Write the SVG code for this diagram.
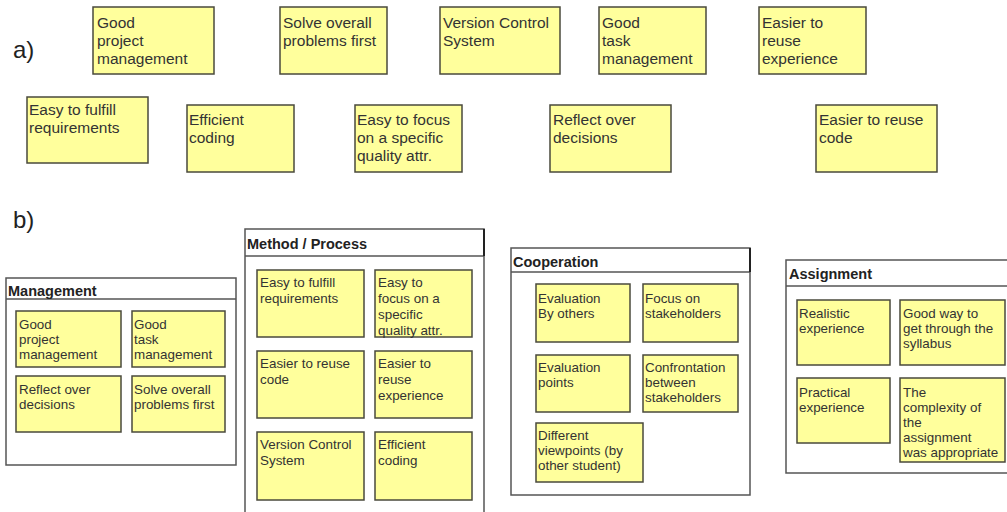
<svg xmlns="http://www.w3.org/2000/svg" width="1007" height="512" viewBox="0 0 1007 512">
<style>
.bg{fill:#ffffff}
.note{fill:#ffff9c;stroke:#4a4a3c;stroke-width:1.5}
.cont{fill:#ffffff;stroke:#555555;stroke-width:1.5}
.hdr{fill:none;stroke:#555555;stroke-width:1.5}
.edge{stroke:#222222;stroke-width:2}
.ta{font-family:"Liberation Sans",Arial,sans-serif;font-size:15.5px;fill:#333333}
.tb{font-family:"Liberation Sans",Arial,sans-serif;font-size:13.4px;fill:#333333}
.title{font-family:"Liberation Sans",Arial,sans-serif;font-size:14.5px;font-weight:bold;fill:#222222}
.lbl{font-family:"Liberation Sans",Arial,sans-serif;font-size:24px;fill:#222222}
</style>
<rect class="bg" x="0" y="0" width="1007" height="512"/>
<text class="lbl" x="13" y="58">a)</text>
<text class="lbl" x="13" y="228">b)</text>

<g id="a-good-project-management"><rect class="note" x="93" y="7" width="121" height="67"/><text class="ta" x="97" y="28">Good</text><text class="ta" x="97" y="46">project</text><text class="ta" x="97" y="64">management</text></g>
<g id="a-solve-overall"><rect class="note" x="280" y="7" width="107" height="67"/><text class="ta" x="283" y="28">Solve overall</text><text class="ta" x="283" y="46">problems first</text></g>
<g id="a-version-control"><rect class="note" x="440" y="7" width="120" height="67"/><text class="ta" x="443" y="28">Version Control</text><text class="ta" x="443" y="46">System</text></g>
<g id="a-good-task"><rect class="note" x="599" y="7" width="107" height="67"/><text class="ta" x="602" y="28">Good</text><text class="ta" x="602" y="46">task</text><text class="ta" x="602" y="64">management</text></g>
<g id="a-reuse-experience"><rect class="note" x="759" y="7" width="107" height="67"/><text class="ta" x="762" y="28">Easier to</text><text class="ta" x="762" y="46">reuse</text><text class="ta" x="762" y="64">experience</text></g>
<g id="a-fulfill"><rect class="note" x="27" y="97" width="121" height="66"/><text class="ta" x="29" y="115">Easy to fulfill</text><text class="ta" x="29" y="133">requirements</text></g>
<g id="a-efficient"><rect class="note" x="187" y="105" width="107" height="67"/><text class="ta" x="189" y="125">Efficient</text><text class="ta" x="189" y="143">coding</text></g>
<g id="a-focus"><rect class="note" x="355" y="105" width="107" height="67"/><text class="ta" x="357" y="125">Easy to focus</text><text class="ta" x="357" y="143">on a specific</text><text class="ta" x="357" y="161">quality attr.</text></g>
<g id="a-reflect"><rect class="note" x="550" y="105" width="121" height="67"/><text class="ta" x="553" y="125">Reflect over</text><text class="ta" x="553" y="143">decisions</text></g>
<g id="a-reuse-code"><rect class="note" x="816" y="105" width="121" height="67"/><text class="ta" x="819" y="125">Easier to reuse</text><text class="ta" x="819" y="143">code</text></g>

<g id="management">
<rect class="cont" x="6" y="278" width="230" height="187"/>
<line class="hdr" x1="6" y1="299" x2="236" y2="299"/>
<text class="title" x="8" y="296">Management</text>
<rect class="note" x="16" y="311" width="105" height="56"/><text class="tb" x="19" y="329">Good</text><text class="tb" x="19" y="344">project</text><text class="tb" x="19" y="359">management</text>
<rect class="note" x="132" y="311" width="93" height="56"/><text class="tb" x="134" y="329">Good</text><text class="tb" x="134" y="344">task</text><text class="tb" x="134" y="359">management</text>
<rect class="note" x="16" y="376" width="105" height="56"/><text class="tb" x="19" y="394">Reflect over</text><text class="tb" x="19" y="409">decisions</text>
<rect class="note" x="132" y="376" width="93" height="56"/><text class="tb" x="134" y="394">Solve overall</text><text class="tb" x="134" y="409">problems first</text>
</g>

<g id="method-process">
<rect class="cont" x="245" y="229" width="239" height="295"/>
<line class="hdr" x1="245" y1="256" x2="484" y2="256"/>
<line class="edge" x1="484" y1="229" x2="484" y2="256"/>
<text class="title" x="247" y="249">Method / Process</text>
<rect class="note" x="257" y="270" width="107" height="67"/><text class="tb" x="260" y="287">Easy to fulfill</text><text class="tb" x="260" y="303">requirements</text>
<rect class="note" x="375" y="270" width="97" height="67"/><text class="tb" x="378" y="287">Easy to</text><text class="tb" x="378" y="303">focus on a</text><text class="tb" x="378" y="319">specific</text><text class="tb" x="378" y="335">quality attr.</text>
<rect class="note" x="257" y="351" width="107" height="67"/><text class="tb" x="260" y="368">Easier to reuse</text><text class="tb" x="260" y="384">code</text>
<rect class="note" x="375" y="351" width="97" height="67"/><text class="tb" x="378" y="368">Easier to</text><text class="tb" x="378" y="384">reuse</text><text class="tb" x="378" y="400">experience</text>
<rect class="note" x="257" y="432" width="107" height="68"/><text class="tb" x="260" y="449">Version Control</text><text class="tb" x="260" y="465">System</text>
<rect class="note" x="375" y="432" width="97" height="68"/><text class="tb" x="378" y="449">Efficient</text><text class="tb" x="378" y="465">coding</text>
</g>

<g id="cooperation">
<rect class="cont" x="511" y="248" width="239" height="247"/>
<line class="hdr" x1="511" y1="272" x2="750" y2="272"/>
<line class="edge" x1="750" y1="248" x2="750" y2="272"/>
<text class="title" x="513" y="267">Cooperation</text>
<rect class="note" x="536" y="284" width="94" height="58"/><text class="tb" x="538" y="303">Evaluation</text><text class="tb" x="538" y="318">By others</text>
<rect class="note" x="643" y="284" width="95" height="58"/><text class="tb" x="645" y="303">Focus on</text><text class="tb" x="645" y="318">stakeholders</text>
<rect class="note" x="536" y="355" width="94" height="57"/><text class="tb" x="538" y="372">Evaluation</text><text class="tb" x="538" y="387">points</text>
<rect class="note" x="643" y="355" width="95" height="57"/><text class="tb" x="645" y="372">Confrontation</text><text class="tb" x="645" y="387">between</text><text class="tb" x="645" y="402">stakeholders</text>
<rect class="note" x="536" y="423" width="107" height="59"/><text class="tb" x="538" y="440">Different</text><text class="tb" x="538" y="455">viewpoints (by</text><text class="tb" x="538" y="470">other student)</text>
</g>

<g id="assignment">
<rect class="cont" x="786" y="260" width="230" height="213"/>
<line class="hdr" x1="786" y1="286" x2="1010" y2="286"/>
<text class="title" x="789" y="279">Assignment</text>
<rect class="note" x="797" y="300" width="93" height="65"/><text class="tb" x="799" y="318">Realistic</text><text class="tb" x="799" y="333">experience</text>
<rect class="note" x="900" y="300" width="105" height="65"/><text class="tb" x="903" y="318">Good way to</text><text class="tb" x="903" y="333">get through the</text><text class="tb" x="903" y="348">syllabus</text>
<rect class="note" x="797" y="378" width="93" height="65"/><text class="tb" x="799" y="397">Practical</text><text class="tb" x="799" y="412">experience</text>
<rect class="note" x="900" y="378" width="105" height="84"/><text class="tb" x="903" y="397">The</text><text class="tb" x="903" y="412">complexity of</text><text class="tb" x="903" y="427">the</text><text class="tb" x="903" y="442">assignment</text><text class="tb" x="903" y="457">was appropriate</text>
</g>

<g id="connectors"/>
</svg>
